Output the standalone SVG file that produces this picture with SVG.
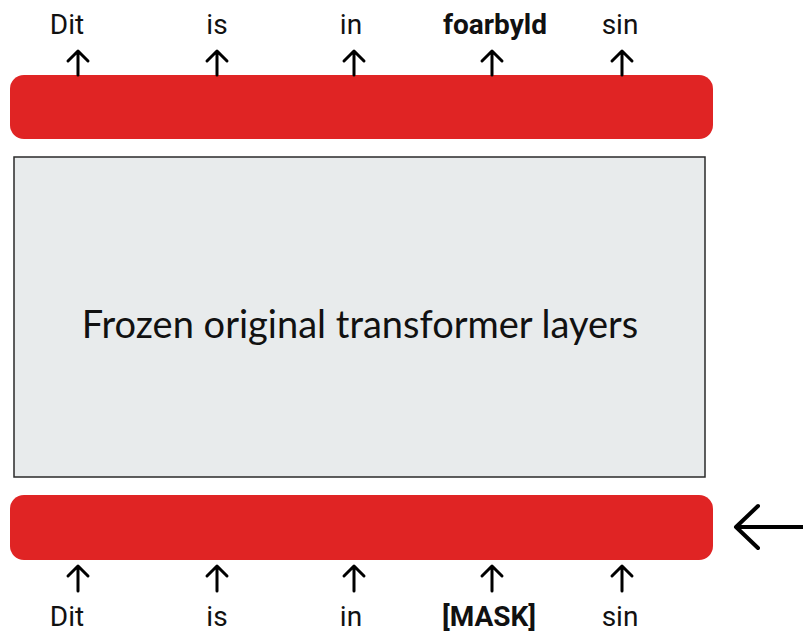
<svg xmlns="http://www.w3.org/2000/svg" width="803" height="632" viewBox="0 0 803 632">
<defs>
<style>
.bar{fill:#e02424;}
.tok{font-family:Roboto,"Liberation Sans",sans-serif;font-size:28px;fill:#111;text-anchor:middle;}
.b{font-weight:bold;}
.ar{stroke:#000;stroke-width:3;fill:none;stroke-linecap:round;stroke-linejoin:round;}
</style>
</defs>
<rect width="803" height="632" fill="#fff"/>
<g id="top-bar"><rect class="bar" x="10" y="75" width="703" height="64" rx="14"/></g>
<g id="frozen"><rect x="14" y="157" width="691" height="320" fill="#e8ebec" stroke="#2a2a2a" stroke-width="1.5"/>
<text x="360" y="338" font-family="Lato,'Open Sans',sans-serif" font-size="38" fill="#111" text-anchor="middle">Frozen original transformer layers</text></g>
<g id="bottom-bar"><rect class="bar" x="10" y="495" width="703" height="65" rx="14"/></g>
<g id="top-labels">
<text class="tok" x="67" y="34">Dit</text>
<text class="tok" x="217" y="34">is</text>
<text class="tok" x="351" y="34">in</text>
<text class="tok b" x="495" y="34">foarbyld</text>
<text class="tok" x="620" y="34">sin</text>
</g>
<g id="bottom-labels">
<text class="tok" x="67" y="626">Dit</text>
<text class="tok" x="217" y="626">is</text>
<text class="tok" x="351" y="626">in</text>
<text class="tok b" x="489" y="626">[MASK]</text>
<text class="tok" x="620" y="626">sin</text>
</g>
<g id="connectors">
<path class="ar" d="M78 75V51M68 61L78 51L88 61"/>
<path class="ar" d="M217 75V51M207 61L217 51L227 61"/>
<path class="ar" d="M354 75V51M344 61L354 51L364 61"/>
<path class="ar" d="M492 75V51M482 61L492 51L502 61"/>
<path class="ar" d="M622 75V51M612 61L622 51L632 61"/>
<path class="ar" d="M78 591V566M68 576L78 566L88 576"/>
<path class="ar" d="M217 591V566M207 576L217 566L227 576"/>
<path class="ar" d="M354 591V566M344 576L354 566L364 576"/>
<path class="ar" d="M492 591V566M482 576L492 566L502 576"/>
<path class="ar" d="M622 591V566M612 576L622 566L632 576"/>
<path d="M803 527H736M758 506L736 527L758 548" stroke="#000" stroke-width="4" fill="none" stroke-linecap="round" stroke-linejoin="round"/>
</g>
</svg>
